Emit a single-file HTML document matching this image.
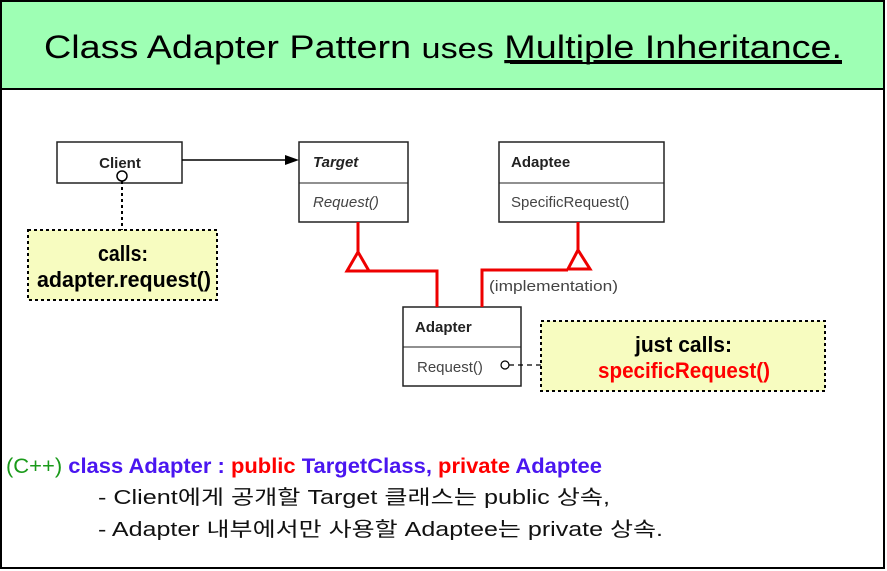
<!DOCTYPE html>
<html><head><meta charset="utf-8"><style>
body{margin:0;width:887px;height:571px;background:#fff;overflow:hidden}
svg{display:block}
</style></head><body>
<svg width="887" height="571" xmlns="http://www.w3.org/2000/svg">
<rect x="1" y="1" width="883" height="567" fill="#fff" stroke="#000" stroke-width="2"/>
<rect x="1" y="1" width="883" height="88" fill="#9effb4" stroke="#000" stroke-width="2"/>
<text x="443" y="58" text-anchor="middle" font-family="Liberation Sans Narrow, Liberation Sans, sans-serif" font-size="32" fill="#000" textLength="798" lengthAdjust="spacingAndGlyphs">Class Adapter Pattern <tspan font-size="29">uses</tspan> <tspan text-decoration="underline">Multiple Inheritance.</tspan></text>
<line x1="510" y1="63" x2="842" y2="63" stroke="#000" stroke-width="2"/>
<g font-family="Liberation Sans, sans-serif" font-size="15" fill="#222">
<rect x="57" y="142" width="125" height="41" fill="#fff" stroke="#222" stroke-width="1.5"/>
<text x="120" y="168" text-anchor="middle" font-weight="bold">Client</text>
<rect x="299" y="142" width="109" height="80" fill="#fff" stroke="#222" stroke-width="1.5"/>
<line x1="299" y1="183" x2="408" y2="183" stroke="#222"/>
<text x="313" y="167" font-weight="bold" font-style="italic">Target</text>
<text x="313" y="207" font-style="italic" fill="#444">Request()</text>
<rect x="499" y="142" width="165" height="80" fill="#fff" stroke="#222" stroke-width="1.5"/>
<line x1="499" y1="183" x2="664" y2="183" stroke="#222"/>
<text x="511" y="167" font-weight="bold">Adaptee</text>
<text x="511" y="207" fill="#444">SpecificRequest()</text>
<rect x="403" y="307" width="118" height="79" fill="#fff" stroke="#222" stroke-width="1.5"/>
<line x1="403" y1="347" x2="521" y2="347" stroke="#222"/>
<text x="415" y="332" font-weight="bold">Adapter</text>
<text x="417" y="372" fill="#444">Request()</text>
<text x="489" y="291" fill="#444" textLength="129" lengthAdjust="spacingAndGlyphs">(implementation)</text>
</g>
<line x1="182" y1="160" x2="290" y2="160" stroke="#000" stroke-width="1.5"/>
<polygon points="285,155 299,160 285,165" fill="#000"/>
<g stroke="#e00" stroke-width="3" fill="none">
<polyline points="358,222 358,252"/>
<polygon points="358,252 347,271 369,271" fill="#fff"/>
<polyline points="369,271 437,271 437,307"/>
<polyline points="578,222 578,250"/>
<polygon points="578,250 568,269 590,269" fill="#fff"/>
<polyline points="568,270 482,270 482,307"/>
</g>
<line x1="122" y1="181" x2="122" y2="230" stroke="#000" stroke-width="2" stroke-dasharray="3,3"/>
<circle cx="122" cy="176" r="5" fill="#fff" stroke="#000" stroke-width="1.5"/>
<circle cx="505" cy="365" r="4" fill="#fff" stroke="#000" stroke-width="1.2"/>
<line x1="509" y1="365" x2="541" y2="365" stroke="#000" stroke-width="1.2" stroke-dasharray="5,4"/>
<rect x="28" y="230" width="189" height="70" fill="#f7fcc0" stroke="#000" stroke-width="2" stroke-dasharray="3,3"/>
<g font-family="Liberation Sans Narrow, Liberation Sans, sans-serif" font-weight="bold" font-size="22">
<text x="98" y="261" textLength="50" lengthAdjust="spacingAndGlyphs">calls:</text>
<text x="37" y="287" textLength="174" lengthAdjust="spacingAndGlyphs">adapter.request()</text>
</g>
<rect x="541" y="321" width="284" height="70" fill="#f7fcc0" stroke="#000" stroke-width="2" stroke-dasharray="3,3"/>
<g font-family="Liberation Sans Narrow, Liberation Sans, sans-serif" font-weight="bold" font-size="22">
<text x="635" y="352" textLength="97" lengthAdjust="spacingAndGlyphs">just calls:</text>
<text x="598" y="378" textLength="172" lengthAdjust="spacingAndGlyphs" fill="#f00">specificRequest()</text>
</g>
<text x="6" y="473" font-family="Liberation Sans Narrow, Liberation Sans, sans-serif" font-size="21" font-weight="bold" textLength="596" lengthAdjust="spacingAndGlyphs"><tspan fill="#1a9a1a" font-weight="normal">(C++)</tspan> <tspan fill="#4a16f0">class Adapter :</tspan> <tspan fill="#f00">public</tspan> <tspan fill="#4a16f0">TargetClass,</tspan> <tspan fill="#f00">private</tspan> <tspan fill="#4a16f0">Adaptee</tspan></text>
<g font-family="Liberation Sans, 'Noto Sans CJK KR', sans-serif" font-size="20" fill="#111">
<text x="98" y="504" textLength="512" lengthAdjust="spacingAndGlyphs">- Client에게 공개할 Target 클래스는 public 상속,</text>
<text x="98" y="536" textLength="565" lengthAdjust="spacingAndGlyphs">- Adapter 내부에서만 사용할 Adaptee는 private 상속.</text>
</g>
</svg>
</body></html>
